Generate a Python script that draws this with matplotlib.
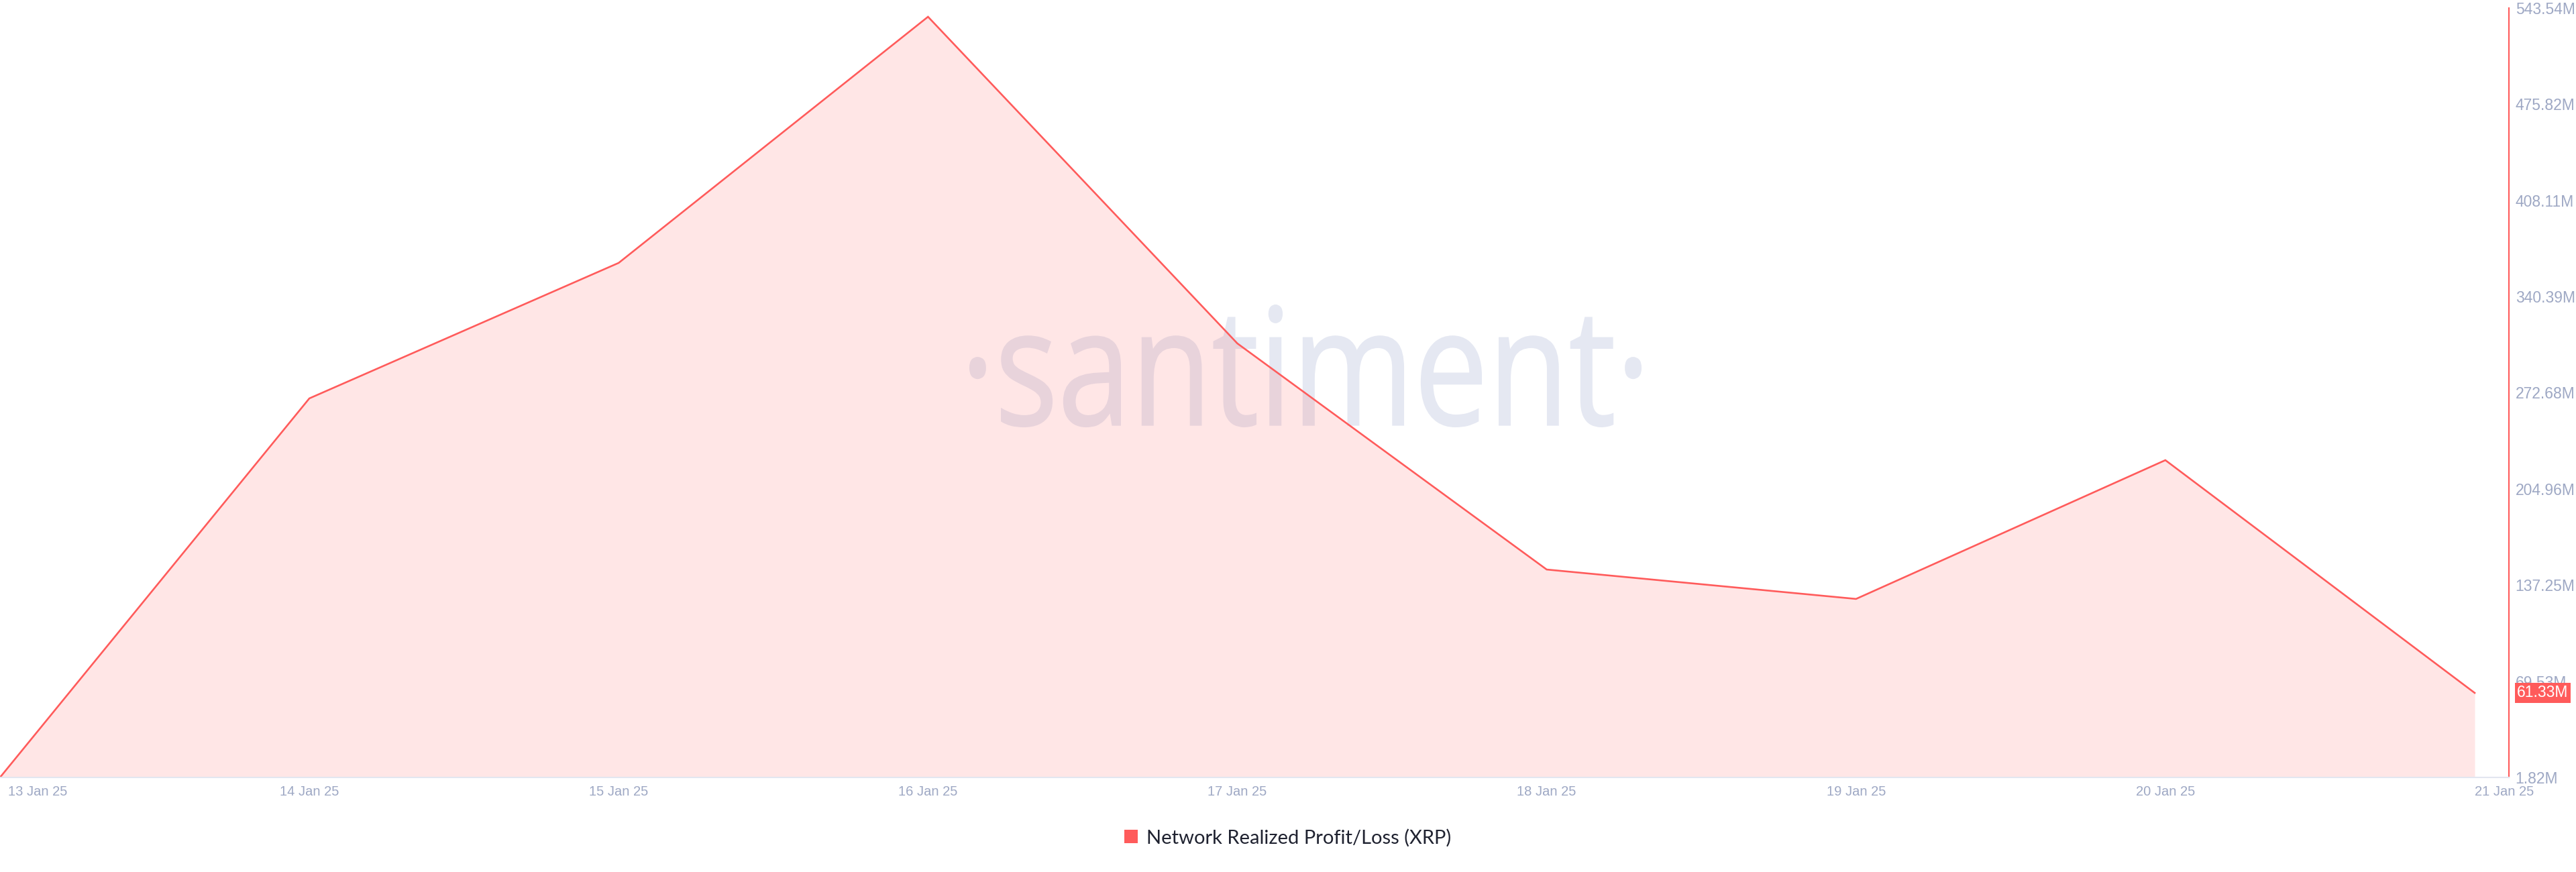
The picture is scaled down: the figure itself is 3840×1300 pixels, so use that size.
"""
Network realized profit/loss (XRP), Santiment style area chart.
"""

import matplotlib
matplotlib.use('Agg')
import matplotlib.pyplot as plt
from matplotlib.patches import Patch, PathPatch
from matplotlib.textpath import TextPath
from matplotlib.font_manager import FontProperties
from matplotlib.transforms import Affine2D, IdentityTransform, ScaledTranslation

# Data (values in millions)
dates = ['13 Jan 25', '14 Jan 25', '15 Jan 25', '16 Jan 25', '17 Jan 25',
         '18 Jan 25', '19 Jan 25', '20 Jan 25', '21 Jan 25']
realized_pl = [1.82, 268.7, 364.1, 537.4, 307.4, 148.2, 127.5, 225.2, 61.33]
yticks = [1.82, 69.53, 137.25, 204.96, 272.68, 340.39, 408.11, 475.82, 543.54]
series_name = 'Network Realized Profit/Loss (XRP)'

RED = '#ff5b5b'
TICK_COLOR = '#9ea8c4'
W, H, DPI = 3840, 1300, 100

fig = plt.figure(figsize=(W / DPI, H / DPI), dpi=DPI)
# plot area in pixels: x 0..3740, y 12..1159 (from top)
ax = fig.add_axes([0, (H - 1159) / H, 3740 / W, (1159 - 12) / H])

x = list(range(len(dates)))
ax.fill_between(x, realized_pl, yticks[0], color=RED, alpha=0.15, lw=0, zorder=1)
ax.plot(x, realized_pl, color=RED, lw=1.9, zorder=2, solid_joinstyle='miter')

ax.set_xlim(0, (len(x) - 1) * 3740 / 3689)
ax.set_ylim(yticks[0], yticks[-1])

# spines
for side in ('top', 'left'):
    ax.spines[side].set_visible(False)
ax.spines['right'].set_color(RED)
ax.spines['right'].set_linewidth(1.5)
ax.spines['bottom'].set_color('#e2e6f0')
ax.spines['bottom'].set_linewidth(1.5)

# ticks
ax.yaxis.tick_right()
ax.set_yticks(yticks)
ax.set_yticklabels([f'{v:.2f}M' for v in yticks])
ax.set_xticks(x)
ax.set_xticklabels(dates)
ax.tick_params(axis='y', length=0, pad=7, labelsize=16.5, labelcolor=TICK_COLOR)
ax.tick_params(axis='x', length=0, pad=9, labelsize=14.5, labelcolor=TICK_COLOR)
for lab in ax.get_xticklabels() + ax.get_yticklabels():
    lab.set_fontfamily('Liberation Sans')
xlabels = ax.get_xticklabels()
xlabels[0].set_horizontalalignment('left')
xlabels[0].set_transform(xlabels[0].get_transform()
                         + ScaledTranslation(12 / DPI, 0, fig.dpi_scale_trans))
xlabels[-1].set_horizontalalignment('left')

# last value badge
ax.text(1, realized_pl[-1], f'{realized_pl[-1]:.2f}M',
        transform=ax.get_yaxis_transform() + ScaledTranslation(12 / DPI, 0, fig.dpi_scale_trans),
        ha='left', va='center', color='white', fontsize=16.5, family='Liberation Sans',
        bbox=dict(boxstyle='square,pad=0.15', fc=RED, ec='none'), clip_on=False, zorder=5)

# watermark, squeezed into its box (pixels)
tp = TextPath((0, 0), '\u00b7santiment\u00b7', size=100,
              prop=FontProperties(family='Open Sans'))
ext = tp.get_extents()
x0, x1, y0, y1 = 1446, 2446, H - 636, H - 455
tr = (Affine2D().translate(-ext.x0, -ext.y0)
      .scale((x1 - x0) / ext.width, (y1 - y0) / ext.height)
      .translate(x0, y0))
wm = PathPatch(tr.transform_path(tp), transform=IdentityTransform(),
               fc='#e5e8f2', ec='#e5e8f2', lw=1.5, zorder=0.5, clip_on=False)
ax.add_artist(wm)

# legend
fig.legend(handles=[Patch(facecolor=RED, edgecolor='none', label=series_name)],
           loc='center', bbox_to_anchor=(0.5, (H - 1249) / H), frameon=False,
           prop=FontProperties(family='Lato', size=21), labelcolor='#1f2230',
           handlelength=0.68, handleheight=0.68, handletextpad=0.45)

fig.savefig('out.png', dpi=DPI, facecolor='white')
